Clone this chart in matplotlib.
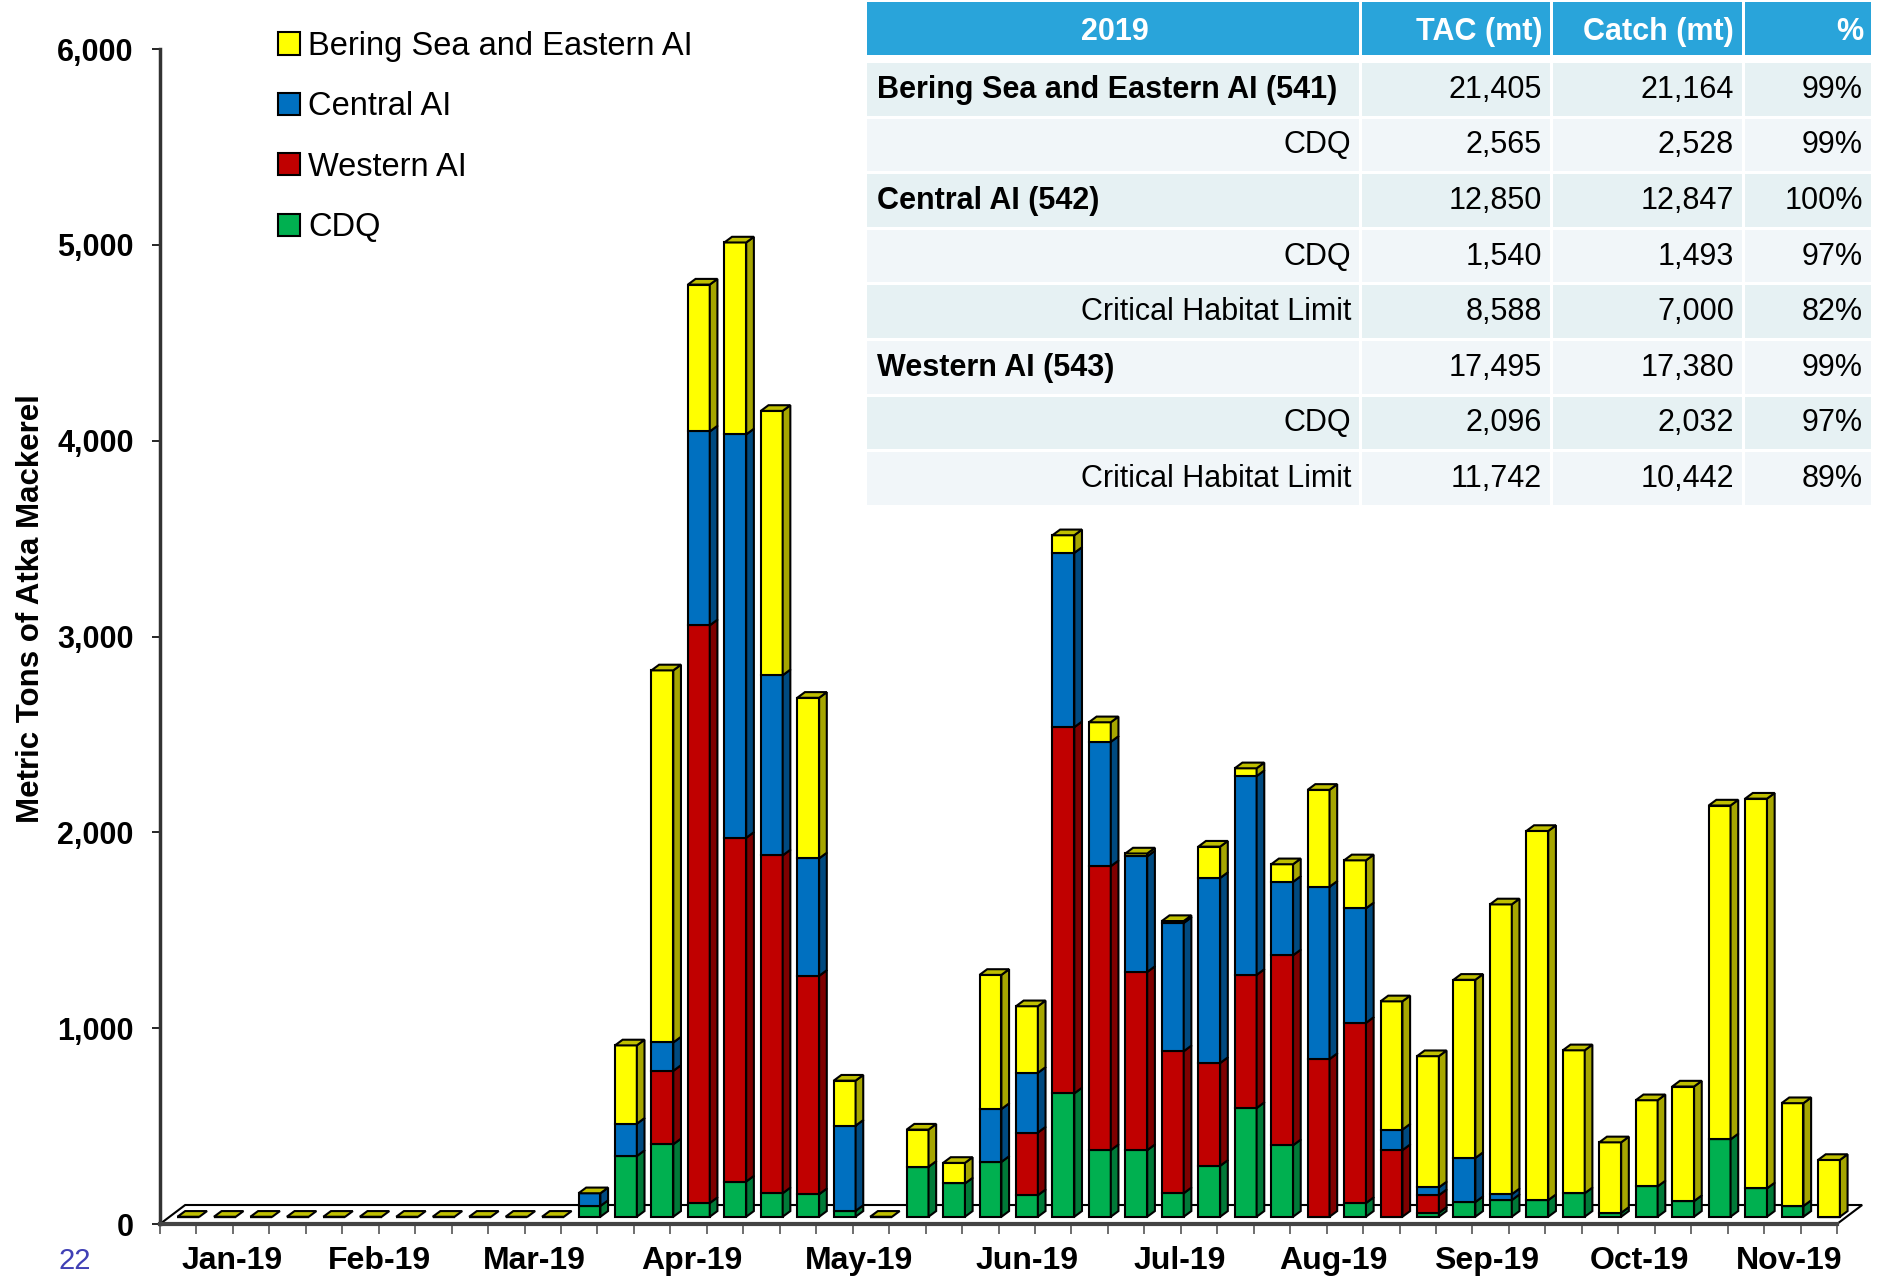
import numpy as np
import matplotlib.pyplot as plt
from matplotlib.patches import Polygon, Rectangle, Patch

plt.rcParams['font.family'] = ['Liberation Sans', 'DejaVu Sans']

# weekly catch, 2019 (metric tons), stacked bottom -> top
cdq = [0, 0, 0, 0, 0, 0, 0, 0, 0, 0, 0, 55, 310, 370, 70, 180, 120, 115, 30, 0,
       255, 170, 280, 110, 630, 340, 340, 120, 260, 555, 365, 0, 70, 0, 20, 75,
       85, 85, 120, 20, 155, 80, 395, 145, 55, 0]
western = [0, 0, 0, 0, 0, 0, 0, 0, 0, 0, 0, 0, 0, 375, 2950, 1755, 1725, 1115, 0, 0,
           0, 0, 0, 320, 1870, 1450, 910, 725, 525, 680, 970, 805, 920, 340, 90, 0,
           0, 0, 0, 0, 0, 0, 0, 0, 0, 0]
central = [0, 0, 0, 0, 0, 0, 0, 0, 0, 0, 0, 65, 165, 145, 990, 2060, 920, 600, 435, 0,
           0, 0, 270, 305, 890, 635, 590, 655, 945, 1015, 375, 880, 585, 105, 40, 225,
           30, 0, 0, 0, 0, 0, 0, 0, 0, 0]
bering = [0, 0, 0, 0, 0, 0, 0, 0, 0, 0, 0, 0, 400, 1900, 750, 980, 1350, 820, 230, 0,
          190, 105, 685, 340, 90, 100, 15, 10, 160, 40, 90, 495, 245, 655, 670, 910,
          1480, 1885, 730, 360, 440, 585, 1705, 1990, 525, 290]

month_labels = ['Jan-19', 'Feb-19', 'Mar-19', 'Apr-19', 'May-19', 'Jun-19',
                'Jul-19', 'Aug-19', 'Sep-19', 'Oct-19', 'Nov-19']
month_pos = [1.2, 5.24, 9.5, 13.8, 18.4, 23.0, 27.2, 31.4, 35.6, 39.8, 43.9]

# summary table
tbl_header = ['2019', 'TAC (mt)', 'Catch (mt)', '%']
tbl_names = ['Bering Sea and Eastern AI (541)', 'CDQ', 'Central AI (542)', 'CDQ',
             'Critical Habitat Limit', 'Western AI (543)', 'CDQ', 'Critical Habitat Limit']
tbl_tac = ['21,405', '2,565', '12,850', '1,540', '8,588', '17,495', '2,096', '11,742']
tbl_catch = ['21,164', '2,528', '12,847', '1,493', '7,000', '17,380', '2,032', '10,442']
tbl_pct = ['99%', '99%', '100%', '97%', '82%', '99%', '97%', '89%']
tbl_bold = [True, False, True, False, False, True, False, False]

series = [
    ('CDQ', cdq, '#00B050', '#007A38'),
    ('Western AI', western, '#C00000', '#7F0000'),
    ('Central AI', central, '#0070C0', '#004A80'),
    ('Bering Sea and Eastern AI', bering, '#FFFF00', '#A6A600'),
]

W, H = 1878, 1278
fig = plt.figure(figsize=(W / 100, H / 100), dpi=100)
ax = fig.add_axes([160 / W, 54 / H, 1677 / W, 1175 / H])

n = len(cdq)
x = np.arange(n)
xmin, xmax = -0.78, n - 0.78
ax.set_xlim(xmin, xmax)
ax.set_ylim(0, 6000)

# pseudo 3D geometry (data units)
base = 37
bw = 0.6
ddx, ddy = 0.21, 29
fdx, fdy = 0.69, 97

floor = Polygon([(xmin, 0), (xmax, 0), (xmax + fdx, fdy), (xmin + fdx, fdy)],
                closed=True, facecolor='white', edgecolor='black', lw=1.5,
                clip_on=False, zorder=1)
ax.add_patch(floor)

bottom = np.full(n, float(base))
for name, vals, front, side in series:
    vals = np.array(vals, dtype=float)
    bars = ax.bar(x, vals, bottom=bottom, width=bw, color=front, edgecolor='black',
                  lw=1.5, zorder=3)
    for b in bars:
        b.set_clip_on(False)
    for i in range(n):
        if vals[i] <= 0:
            continue
        b, t = bottom[i], bottom[i] + vals[i]
        xr = x[i] + bw / 2
        ax.add_patch(Polygon([(xr, b), (xr + ddx, b + ddy), (xr + ddx, t + ddy), (xr, t)],
                             closed=True, facecolor=side, edgecolor='black', lw=1.5,
                             clip_on=False, zorder=3))
    bottom = bottom + vals

# top caps (always the top series' face)
for i in range(n):
    t = bottom[i]
    xl, xr = x[i] - bw / 2, x[i] + bw / 2
    ax.add_patch(Polygon([(xl, t), (xr, t), (xr + ddx, t + ddy), (xl + ddx, t + ddy)],
                         closed=True, facecolor='#BFBF00', edgecolor='black', lw=1.5,
                         clip_on=False, zorder=4))

# axes styling
for s in ['top', 'right']:
    ax.spines[s].set_visible(False)
ax.spines['left'].set_linewidth(2.5)
ax.spines['left'].set_color('#333333')
ax.spines['bottom'].set_linewidth(3)
ax.spines['bottom'].set_color('#444444')

ax.set_yticks(np.arange(0, 6001, 1000))
ax.set_yticklabels([f'{v:,}' for v in range(0, 6001, 1000)])
ax.tick_params(axis='y', length=6, width=1.2, pad=13, labelsize=22)
for lab in ax.get_yticklabels():
    lab.set_fontweight('bold')

ax.set_xticks(month_pos)
ax.set_xticklabels(month_labels, fontsize=23, fontweight='bold')
ax.tick_params(axis='x', which='major', length=0, pad=16)
ax.set_xticks(np.arange(n + 1) + xmin, minor=True)
ax.tick_params(axis='x', which='minor', length=7, width=1.2, color='#555555')

ax.set_ylabel('Metric Tons of Atka Mackerel', fontsize=22.5, fontweight='bold')
ax.yaxis.set_label_coords(-0.068, 0.524)

handles = [Patch(facecolor=c, edgecolor='black', lw=1.5, label=nm)
           for nm, _, c, _ in series[::-1]]
ax.legend(handles=handles, loc='upper left', bbox_to_anchor=(278 / W, 1 - 31 / H),
          bbox_transform=fig.transFigure, frameon=False, borderpad=0,
          borderaxespad=0, handlelength=0.67, handleheight=0.67, handletextpad=0.25,
          labelspacing=0.9, prop={'size': 23.5})

# table overlay in pixel coordinates
tax = fig.add_axes([0, 0, 1, 1], zorder=5)
tax.set_xlim(0, W)
tax.set_ylim(H, 0)
tax.axis('off')

cols = [867, 1362, 1553, 1745, 1874]
gap = 3
for j in range(4):
    tax.add_patch(Rectangle((cols[j], 2), cols[j + 1] - cols[j] - gap, 53,
                            facecolor='#29A4DA', edgecolor='none'))
tax.text((cols[0] + cols[1]) / 2, 32, tbl_header[0], ha='center', va='center',
         color='white', fontsize=22, fontweight='bold')
for j in range(1, 4):
    tax.text(cols[j + 1] - gap - 8, 32, tbl_header[j], ha='right', va='center',
             color='white', fontsize=22, fontweight='bold')

row_top, row_h = 63, 55.6
for r in range(len(tbl_names)):
    y0 = row_top + r * row_h
    fc = '#E6F1F3' if r % 2 == 0 else '#F1F6F9'
    for j in range(4):
        tax.add_patch(Rectangle((cols[j], y0), cols[j + 1] - cols[j] - gap, row_h - gap,
                                facecolor=fc, edgecolor='none'))
    yc = y0 + row_h / 2 - 1
    if tbl_bold[r]:
        tax.text(cols[0] + 10, yc, tbl_names[r], ha='left', va='center',
                 fontsize=22, fontweight='bold')
    else:
        tax.text(cols[1] - gap - 8, yc, tbl_names[r], ha='right', va='center', fontsize=22)
    for j, vals in enumerate([tbl_tac, tbl_catch, tbl_pct], start=1):
        tax.text(cols[j + 1] - gap - 8, yc, vals[r], ha='right', va='center', fontsize=22)

tax.text(75, 1261, '22', ha='center', va='center', fontsize=21, color='#4040B5')

fig.savefig('out.png', dpi=100)
